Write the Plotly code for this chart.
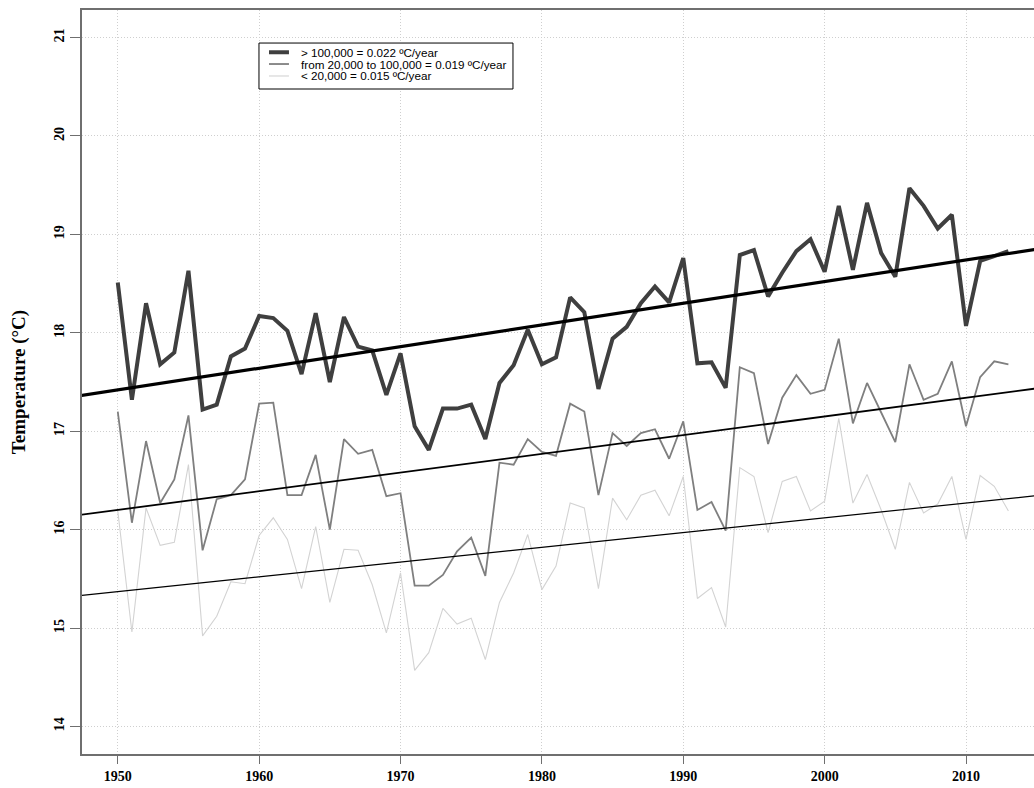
import plotly.graph_objects as go

# Annual mean temperature (°C), 1950-2013, by municipality population class
years = list(range(1950, 2014))

temp_large = [
    18.51, 17.32, 18.30, 17.68, 17.80, 18.63, 17.22, 17.27, 17.76, 17.84,
    18.17, 18.15, 18.02, 17.58, 18.20, 17.50, 18.16, 17.86, 17.82, 17.37,
    17.79, 17.05, 16.81, 17.23, 17.23, 17.27, 16.92, 17.49, 17.67, 18.03,
    17.68, 17.75, 18.36, 18.21, 17.43, 17.94, 18.06, 18.30, 18.47, 18.31,
    18.76, 17.69, 17.70, 17.44, 18.79, 18.84, 18.37, 18.61, 18.83, 18.95,
    18.62, 19.29, 18.64, 19.32, 18.81, 18.57, 19.47, 19.29, 19.06, 19.20,
    18.07, 18.73, 18.78, 18.83,
]

temp_medium = [
    17.20, 16.07, 16.90, 16.27, 16.51, 17.16, 15.79, 16.31, 16.35, 16.51,
    17.28, 17.29, 16.35, 16.35, 16.76, 16.00, 16.92, 16.77, 16.81, 16.34,
    16.37, 15.43, 15.43, 15.54, 15.78, 15.92, 15.53, 16.68, 16.66, 16.92,
    16.79, 16.75, 17.28, 17.20, 16.35, 16.98, 16.85, 16.98, 17.02, 16.72,
    17.10, 16.20, 16.28, 15.99, 17.65, 17.59, 16.87, 17.34, 17.57, 17.38,
    17.42, 17.94, 17.08, 17.49, 17.19, 16.89, 17.68, 17.32, 17.38, 17.71,
    17.05, 17.55, 17.71, 17.68,
]

temp_small = [
    16.19, 14.96, 16.22, 15.84, 15.87, 16.66, 14.92, 15.12, 15.47, 15.45,
    15.94, 16.12, 15.90, 15.40, 16.03, 15.26, 15.80, 15.79, 15.44, 14.95,
    15.56, 14.57, 14.75, 15.20, 15.04, 15.10, 14.68, 15.26, 15.56, 15.95,
    15.39, 15.63, 16.27, 16.22, 15.40, 16.32, 16.10, 16.35, 16.40, 16.14,
    16.54, 15.30, 15.41, 15.01, 16.63, 16.54, 15.97, 16.49, 16.54, 16.19,
    16.29, 17.13, 16.27, 16.56, 16.20, 15.80, 16.48, 16.17, 16.26, 16.54,
    15.90, 16.55, 16.44, 16.19,
]

series_labels = [
    "> 100,000 = 0.022 ºC/year",
    "from 20,000 to 100,000 = 0.019 ºC/year",
    "< 20,000 = 0.015 ºC/year",
]

# Linear trends: slope (°C/year) and fitted value in 1950
trend_slopes = [0.022, 0.019, 0.015]
trend_at_1950 = [17.42, 16.20, 15.37]

x_ticks = [1950, 1960, 1970, 1980, 1990, 2000, 2010]
y_ticks = [14, 15, 16, 17, 18, 19, 20, 21]

series = [temp_large, temp_medium, temp_small]
line_colors = ["#3f3f3f", "#7f7f7f", "#d3d3d3"]
line_widths = [4, 1.8, 1.1]
trend_widths = [3.2, 1.8, 1.2]

x_range = [1947.47, 2014.81]
y_range = [13.72, 21.28]

fig = go.Figure()

for values, label, color, width in zip(series, series_labels, line_colors, line_widths):
    fig.add_trace(go.Scatter(
        x=years, y=values, mode="lines", name=label, showlegend=False,
        line=dict(color=color, width=width),
    ))

trend_x = [1940, 2020]
for slope, base, width in zip(trend_slopes, trend_at_1950, trend_widths):
    fig.add_trace(go.Scatter(
        x=trend_x, y=[base + slope * (x - 1950) for x in trend_x],
        mode="lines", showlegend=False, hoverinfo="skip",
        line=dict(color="black", width=width),
    ))

# Boxed key in the upper left of the plotting region (paper coordinates)
key_left, key_right = 0.1859, 0.4527
key_top, key_bottom = 0.9556, 0.8938
key_rows = [0.9432, 0.9274, 0.9113]
sample_x0, sample_x1, text_x = 0.1964, 0.2174, 0.2279

fig.add_shape(type="rect", xref="paper", yref="paper",
              x0=key_left, x1=key_right, y0=key_bottom, y1=key_top,
              line=dict(color="black", width=1), fillcolor="white", layer="above")
for row_y, label, color, width in zip(key_rows, series_labels, line_colors, line_widths):
    fig.add_shape(type="line", xref="paper", yref="paper",
                  x0=sample_x0, x1=sample_x1, y0=row_y, y1=row_y,
                  line=dict(color=color, width=width), layer="above")
    fig.add_annotation(xref="paper", yref="paper", x=text_x, y=row_y,
                       text=label, showarrow=False, xanchor="left", yanchor="middle",
                       font=dict(family="Liberation Sans", size=11.7, color="black"))

tick_font = dict(family="Liberation Serif", size=14, color="black", weight="bold")
grid_style = dict(showgrid=True, gridcolor="#cfcfcf", griddash="1px,2px", gridwidth=1)

fig.update_layout(
    width=1034, height=788,
    margin=dict(l=82, r=0, t=10, b=34),
    paper_bgcolor="white", plot_bgcolor="white",
    showlegend=False,
)

fig.update_xaxes(
    range=x_range, tickvals=x_ticks, ticktext=[str(v) for v in x_ticks],
    zeroline=False, showline=True, linecolor="#6f6f6f", linewidth=1.5,
    mirror=True, ticks="outside", ticklen=8, tickcolor="#6f6f6f", tickwidth=1,
    tickfont=tick_font, **grid_style,
)

fig.update_yaxes(
    range=y_range, tickvals=y_ticks, ticktext=[str(v) for v in y_ticks],
    zeroline=False, showline=True, linecolor="#6f6f6f", linewidth=1.5,
    mirror=False, ticks="outside", ticklen=10, tickcolor="#6f6f6f", tickwidth=1,
    tickangle=-90, tickfont=tick_font, ticklabelstandoff=1,
    title=dict(text="Temperature (°C)", standoff=21,
               font=dict(family="Liberation Serif", size=19, color="black", weight="bold")),
    **grid_style,
)

fig.write_html("out.html")
